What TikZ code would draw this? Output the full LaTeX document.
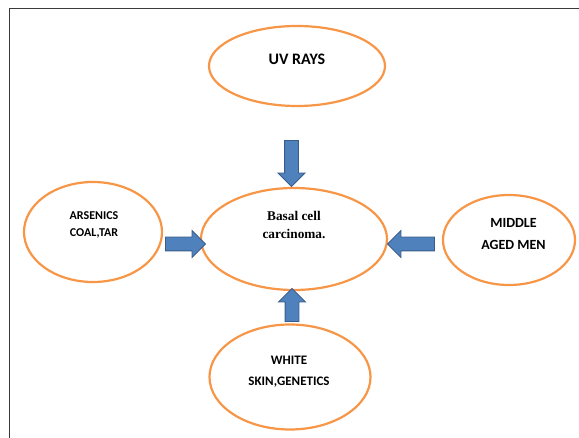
\documentclass[tikz,border=0pt]{standalone}
\usepackage{fontspec}
\setmainfont{Carlito}
\newfontfamily\timesfont{Liberation Serif}
\usetikzlibrary{shapes.geometric,shapes.arrows}
\definecolor{ovalorange}{HTML}{F79646}
\definecolor{arrowblue}{HTML}{4F81BD}
\definecolor{arrowedge}{HTML}{385D8A}
\definecolor{framegray}{HTML}{3A3A3A}

\begin{document}
\begin{tikzpicture}[x=1pt,y=-1pt]
  \tikzstyle{Oval}=[draw=ovalorange,line width=2.2pt,ellipse,inner sep=0pt]
  \tikzstyle{Cause}=[align=center,inner sep=0pt]
  \tikzstyle{BlockArrow}=[single arrow,fill=arrowblue,draw=arrowedge,line width=0.8pt,
                          inner sep=6.5pt,single arrow head extend=6.5pt,
                          single arrow head indent=0pt]

  \useasboundingbox (0,0) rectangle (579,438);
  \draw[framegray,line width=0.9pt] (9,438) -- (9,8) -- (579,8);

  \node[Oval,minimum width=176,minimum height=80]  (uv)     at (297,66)  {};
  \node[Oval,minimum width=138,minimum height=100] (arsen)  at (93,232)  {};
  \node[Oval,minimum width=186,minimum height=102] (basal)  at (294,239) {};
  \node[Oval,minimum width=132,minimum height=90]  (middle) at (509,240) {};
  \node[Oval,minimum width=161,minimum height=105] (white)  at (290,377) {};

  \node[BlockArrow,rotate=-90,minimum height=46] (uvarrow)     at (291.5,160) {};
  \node[BlockArrow,rotate=0,minimum height=40]   (arsenarrow)  at (182,244)   {};
  \node[BlockArrow,rotate=180,minimum height=47] (middlearrow) at (414.5,244) {};
  \node[BlockArrow,rotate=90,minimum height=33]  (whitearrow)  at (292,308.5) {};

  \node[Cause,font=\bfseries\fontsize{16}{19}\selectfont,yshift=7pt] (uvtext) at (uv.center) {UV RAYS};
  \node[Cause,font=\bfseries\fontsize{12}{17}\selectfont,yshift=7.5pt,xshift=1pt] (arsentext) at (arsen.center) {ARSENICS\\COAL,TAR};
  \node[Cause,font=\timesfont\bfseries\fontsize{13.3}{18}\selectfont,yshift=14pt] (basaltext) at (basal.center) {Basal cell\\carcinoma.};
  \node[Cause,font=\bfseries\fontsize{14}{22}\selectfont,yshift=6pt,xshift=4.5pt] (middletext) at (middle.center) {MIDDLE\\AGED MEN};
  \node[Cause,font=\bfseries\fontsize{13}{21}\selectfont,yshift=5.5pt,xshift=-1pt] (whitetext) at (white.center) {WHITE\\SKIN,GENETICS};

\end{tikzpicture}
\end{document}
